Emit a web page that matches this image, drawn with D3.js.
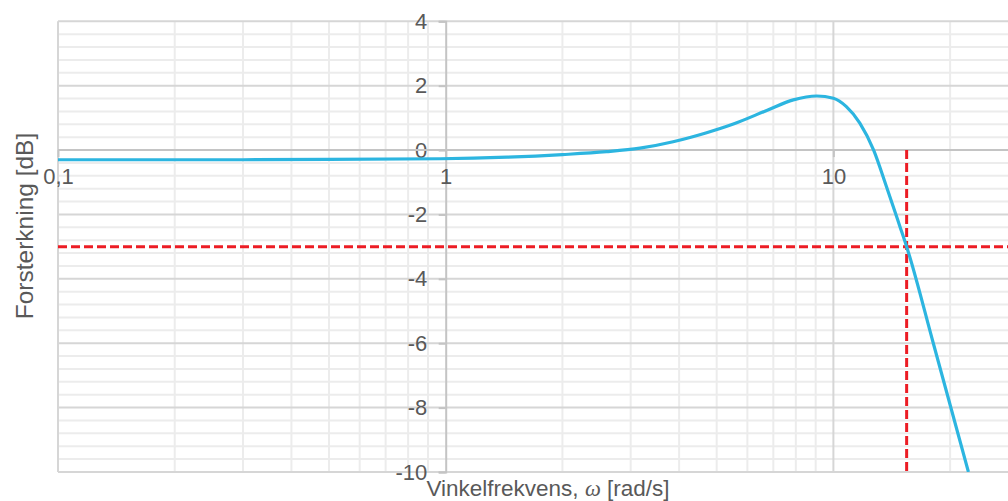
<!DOCTYPE html>
<html><head><meta charset="utf-8">
<script src="https://cdn.jsdelivr.net/npm/d3@7"></script>
<style>
body{margin:0;background:#fff}
svg{display:block}
text{font-family:"Liberation Sans",Arial,sans-serif;fill:#595959}
</style>
</head><body>
<svg id="chart" width="1008" height="501"></svg>
<script>
// ---- data ----
const omega = [0.1, 0.2, 0.3, 0.5, 0.97, 1.44, 2.0, 2.6, 3.17, 3.86, 4.71, 5.52, 6.73, 7.88, 9.06, 10, 10.8, 11.7, 12.7, 13.7, 14.85, 15.45, 18.1, 22.3];
const gainDb = [-0.30, -0.30, -0.30, -0.29, -0.27, -0.22, -0.14, -0.05, 0.06, 0.26, 0.54, 0.81, 1.23, 1.56, 1.68, 1.61, 1.35, 0.84, 0.0, -1.13, -2.38, -3.0, -6.0, -10.0];
const xTickValues = [0.1, 1, 10];
const xTickLabels = ["0,1", "1", "10"];
const yTickValues = [4, 2, 0, -2, -4, -6, -8, -10];
const yTickLabels = ["4", "2", "0", "-2", "-4", "-6", "-8", "-10"];
const cutoffOmega = [15.45];
const cutoffGain = [-3];

// ---- layout ----
const svg = d3.select("#chart");
const pLeft = 58, pTop = 21.3, pBottom = 472, pRight = 1008;
const decade = 387.7;
const x = d3.scaleLog().domain([0.1, 100]).range([pLeft, pLeft + 3 * decade]);
const y = d3.scaleLinear().domain([-10, 4]).range([pBottom, pTop]);

svg.append("defs").append("clipPath").attr("id", "clip")
  .append("rect").attr("x", pLeft).attr("y", pTop).attr("width", pRight - pLeft).attr("height", pBottom - pTop);

const grid = svg.append("g");
// minor x grid
const minorX = [];
[0.1, 1, 10].forEach(d => { for (let k = 2; k <= 9; k++) minorX.push(d * k); });
grid.selectAll(".mx").data(minorX).join("line")
  .attr("x1", d => x(d)).attr("x2", d => x(d)).attr("y1", pTop).attr("y2", pBottom)
  .attr("stroke", "#ececec").attr("stroke-width", 2);
// minor y grid
const minorY = d3.range(-10, 4.001, 0.4).filter(v => Math.abs(v / 2 - Math.round(v / 2)) > 0.01);
grid.selectAll(".my").data(minorY).join("line")
  .attr("x1", pLeft).attr("x2", pRight).attr("y1", d => y(d)).attr("y2", d => y(d))
  .attr("stroke", "#ececec").attr("stroke-width", 2);
// major grid
grid.selectAll(".Mx").data([0.1, 10, 100]).join("line")
  .attr("x1", d => x(d)).attr("x2", d => x(d)).attr("y1", pTop).attr("y2", pBottom)
  .attr("stroke", "#d6d6d6").attr("stroke-width", 2);
grid.selectAll(".My").data(yTickValues.filter(v => v !== 0)).join("line")
  .attr("x1", pLeft).attr("x2", pRight).attr("y1", d => y(d)).attr("y2", d => y(d))
  .attr("stroke", "#d6d6d6").attr("stroke-width", 2);

// y axis at omega = 1
const yAxis = d3.axisLeft(y).tickValues(yTickValues).tickFormat((d, i) => yTickLabels[i]).tickSize(7).tickPadding(11.5);
const gy = svg.append("g").attr("transform", `translate(${x(1)},0)`).call(yAxis);
gy.select(".domain").attr("stroke", "#c4c4c4").attr("stroke-width", 2);
gy.selectAll(".tick line").attr("stroke", "#c4c4c4").attr("stroke-width", 2);
gy.selectAll(".tick text").attr("font-size", 22).attr("fill", "#595959").attr("font-family", "Liberation Sans, Arial, sans-serif");

// x axis at 0 dB
const xAxis = d3.axisBottom(x).tickValues(xTickValues).tickFormat((d, i) => xTickLabels[i]).tickSize(7).tickPadding(11);
const gx = svg.append("g").attr("transform", `translate(0,${y(0)})`).call(xAxis);
gx.select(".domain").remove();
gx.append("line").attr("x1", pLeft).attr("x2", pRight).attr("stroke", "#c4c4c4").attr("stroke-width", 2);
gx.selectAll(".tick line").attr("stroke", "#c4c4c4").attr("stroke-width", 2);
gx.selectAll(".tick text").attr("font-size", 22).attr("fill", "#595959").attr("font-family", "Liberation Sans, Arial, sans-serif");

// cut-off lines
const plot = svg.append("g").attr("clip-path", "url(#clip)");
plot.selectAll(".hc").data(cutoffGain).join("line")
  .attr("x1", pLeft).attr("x2", pRight).attr("y1", d => y(d)).attr("y2", d => y(d))
  .attr("stroke", "#ec1c24").attr("stroke-width", 3).attr("stroke-dasharray", "9,4");
plot.selectAll(".vc").data(cutoffOmega).join("line")
  .attr("x1", d => x(d)).attr("x2", d => x(d)).attr("y1", y(0)).attr("y2", pBottom)
  .attr("stroke", "#ec1c24").attr("stroke-width", 3).attr("stroke-dasharray", "9,4");

// curve
const pts = omega.map((w, i) => [w, gainDb[i]]);
const line = d3.line().x(d => x(d[0])).y(d => y(d[1])).curve(d3.curveMonotoneX);
plot.append("path").datum(pts).attr("d", line)
  .attr("fill", "none").attr("stroke", "#2cb5e0").attr("stroke-width", 3.2);

// titles
const xt = svg.append("text").attr("x", 548).attr("y", 495.5).attr("text-anchor", "middle").attr("font-size", 22.5);
xt.append("tspan").text("Vinkelfrekvens, ");
xt.append("tspan").text("ω").attr("font-style", "italic").attr("font-family", "Liberation Serif, serif");
xt.append("tspan").text(" [rad/s]");

svg.append("text").attr("transform", "translate(33,226) rotate(-90)")
  .attr("text-anchor", "middle").attr("font-size", 24.5).text("Forsterkning [dB]");
</script>
</body></html>
